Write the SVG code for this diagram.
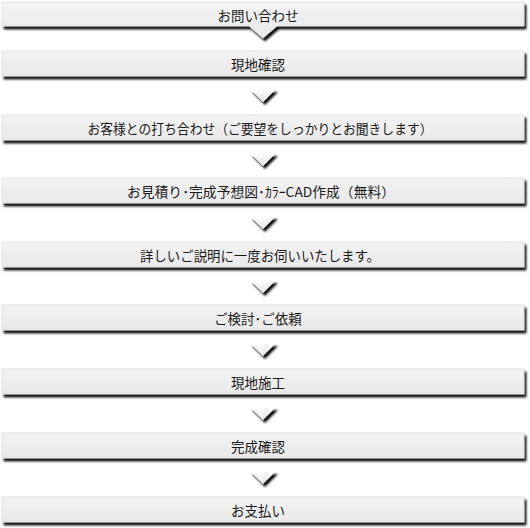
<svg xmlns="http://www.w3.org/2000/svg" width="530" height="528" viewBox="0 0 530 528">
<defs>
<linearGradient id="boxg" x1="0" y1="0" x2="0" y2="1">
<stop offset="0" stop-color="#f3f3f3"/>
<stop offset="1" stop-color="#e9e9e9"/>
</linearGradient>
<linearGradient id="chev" x1="0" y1="0" x2="0" y2="1">
<stop offset="0" stop-color="#ffffff"/>
<stop offset="1" stop-color="#e4e4e4"/>
</linearGradient>
<filter id="sh" x="-5%" y="-30%" width="115%" height="170%">
<feGaussianBlur in="SourceAlpha" stdDeviation="0.9"/>
<feOffset dx="2" dy="2.5" result="o"/>
<feComponentTransfer><feFuncA type="linear" slope="0.95"/></feComponentTransfer>
<feMerge><feMergeNode/><feMergeNode in="SourceGraphic"/></feMerge>
</filter>
</defs>
<style>
.box{fill:url(#boxg);stroke:#dcdcdc;stroke-width:0.8;filter:url(#sh)}
.chev{fill:url(#chev);filter:url(#sh)}
.t{font-family:"Noto Sans CJK JP","Noto Sans",sans-serif;font-size:13.5px;fill:#1a1a1a;text-anchor:middle}
</style>
<rect width="530" height="528" fill="#ffffff"/>
<g id="connectors">
<polygon class="chev" points="250,89 276,89 263,102"/>
<polygon class="chev" points="250,153 276,153 263,166"/>
<polygon class="chev" points="250,216 276,216 263,229"/>
<polygon class="chev" points="250,280 276,280 263,293"/>
<polygon class="chev" points="250,343 276,343 263,356"/>
<polygon class="chev" points="250,407 276,407 263,420"/>
<polygon class="chev" points="250,471 276,471 263,484"/>
</g>
<g id="n1"><path class="box" d="M2,2 H524 V26 H277 L263,38 L249,26 H2 Z"/><text class="t" x="258" y="20.5">お問い合わせ</text></g>
<g id="n2"><rect class="box" x="2" y="51" width="522" height="25"/><text class="t" x="258" y="69.5">現地確認</text></g>
<g id="n3"><rect class="box" x="2" y="115" width="522" height="25"/><text class="t" x="260" y="133.5" textLength="345" lengthAdjust="spacingAndGlyphs">お客様との打ち合わせ（ご要望をしっかりとお聞きします）</text></g>
<g id="n4"><rect class="box" x="2" y="178" width="522" height="25"/><text class="t" x="261" y="196.5" textLength="268" lengthAdjust="spacingAndGlyphs">お見積り･完成予想図･ｶﾗｰCAD作成（無料）</text></g>
<g id="n5"><rect class="box" x="2" y="242" width="522" height="25"/><text class="t" x="260" y="260.5" textLength="240" lengthAdjust="spacingAndGlyphs">詳しいご説明に一度お伺いいたします。</text></g>
<g id="n6"><rect class="box" x="2" y="305" width="522" height="25"/><text class="t" x="258" y="323.5">ご検討･ご依頼</text></g>
<g id="n7"><rect class="box" x="2" y="369" width="522" height="25"/><text class="t" x="258" y="387.5">現地施工</text></g>
<g id="n8"><rect class="box" x="2" y="433" width="522" height="25"/><text class="t" x="258" y="451.5">完成確認</text></g>
<g id="n9"><rect class="box" x="2" y="497" width="522" height="25"/><text class="t" x="258" y="515.5">お支払い</text></g>
</svg>
